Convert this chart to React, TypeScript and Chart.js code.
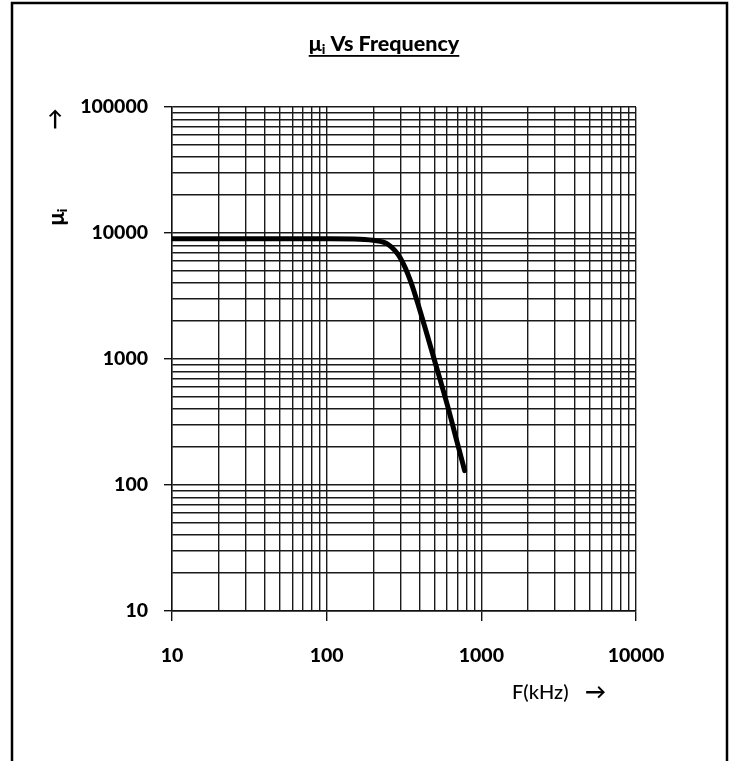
import React, { useEffect, useRef } from "react";
import { Chart, registerables } from "chart.js";

Chart.register(...registerables);

const frequencyKHz = [10, 50, 100, 150, 200, 250, 300, 350, 400, 500, 600, 700, 780];
const permeability = [9000, 9000, 9000, 8980, 8750, 8100, 6300, 4100, 2450, 960, 440, 215, 130];

const xMajorTicks = [10, 100, 1000, 10000];
const yMajorTicks = [10, 100, 1000, 10000, 100000];
const minorMultipliers = [1, 2, 3, 4, 5, 6, 7, 8, 9];

const titleMain = "μ";
const titleSub = "i";
const titleRest = " Vs Frequency";
const xAxisTitle = "F(kHz)";
const arrowRight = "→";
const arrowUp = "↑";

function withMinors(majors: number[]): number[] {
  const out: number[] = [];
  for (let i = 0; i < majors.length - 1; i++) {
    for (const m of minorMultipliers) out.push(majors[i] * m);
  }
  out.push(majors[majors.length - 1]);
  return out;
}

const isMajor = (v: number) => Math.abs(Math.log10(v) - Math.round(Math.log10(v))) < 1e-9;

const FONT = "Lato, 'Open Sans', sans-serif";

const decorPlugin = {
  id: "decor",
  beforeDraw(chart: any) {
    const ctx = chart.ctx;
    ctx.save();
    ctx.fillStyle = "#fff";
    ctx.fillRect(0, 0, chart.width, chart.height);
    ctx.restore();
  },
  afterDraw(chart: any) {
    const ctx = chart.ctx;
    ctx.save();
    // frame
    ctx.strokeStyle = "#000";
    ctx.lineWidth = 2.5;
    ctx.strokeRect(12, 3, 715, 820);

    // title
    ctx.fillStyle = "#000";
    ctx.textBaseline = "alphabetic";
    const big = `900 21.5px ${FONT}`;
    const small = `900 14px ${FONT}`;
    ctx.font = big;
    const w1 = ctx.measureText(titleMain).width;
    const w3 = ctx.measureText(titleRest).width;
    ctx.font = small;
    const w2 = ctx.measureText(titleSub).width;
    const total = w1 + w2 + w3;
    const cx = 384;
    const base = 51;
    let x = cx - total / 2;
    ctx.textAlign = "left";
    ctx.font = big;
    ctx.fillText(titleMain, x, base);
    x += w1;
    ctx.font = small;
    ctx.fillText(titleSub, x, base + 3);
    x += w2;
    ctx.font = big;
    ctx.fillText(titleRest, x, base);
    ctx.fillRect(cx - total / 2, base + 4, total, 1.8);

    // y-axis title (rotated)
    ctx.save();
    ctx.translate(57, 217);
    ctx.rotate(-Math.PI / 2);
    ctx.font = `900 22px ${FONT}`;
    const a1 = ctx.measureText(titleMain).width;
    ctx.font = `900 14px ${FONT}`;
    const a2 = ctx.measureText(titleSub).width;
    let ax = -(a1 + a2) / 2;
    ctx.textBaseline = "middle";
    ctx.font = `900 22px ${FONT}`;
    ctx.fillText(titleMain, ax, 0);
    ax += a1;
    ctx.font = `900 14px ${FONT}`;
    ctx.fillText(titleSub, ax, 5);
    ctx.restore();

    // up arrow
    ctx.font = `bold 21px ${FONT}`;
    ctx.textAlign = "center";
    ctx.textBaseline = "middle";
    ctx.fillText(arrowUp, 55, 119);

    // x-axis title
    ctx.textAlign = "left";
    ctx.font = `500 20px ${FONT}`;
    ctx.fillText(xAxisTitle, 512, 693);
    ctx.font = `bold 21px ${FONT}`;
    ctx.fillText(arrowRight, 585, 692);
    ctx.restore();
  },
};

export default function App() {
  const ref = useRef<HTMLCanvasElement | null>(null);

  useEffect(() => {
    if (!ref.current) return;
    const xTicks = withMinors(xMajorTicks);
    const yTicks = withMinors(yMajorTicks);
    const chart = new Chart(ref.current, {
      type: "line",
      data: {
        datasets: [
          {
            data: frequencyKHz.map((f, i) => ({ x: f, y: permeability[i] })),
            borderColor: "#000",
            borderWidth: 5,
            pointRadius: 0,
            cubicInterpolationMode: "monotone",
            borderCapStyle: "round",
            borderJoinStyle: "round",
            fill: false,
          },
        ],
      },
      options: {
        animation: false,
        responsive: true,
        maintainAspectRatio: false,
        devicePixelRatio: 1,
        layout: { padding: { top: 107, right: 97, bottom: 0, left: 0 } },
        plugins: { legend: { display: false }, tooltip: { enabled: false }, title: { display: false } },
        scales: {
          x: {
            type: "logarithmic",
            min: 10,
            max: 10000,
            afterBuildTicks: (s: any) => {
              s.ticks = xTicks.map((v) => ({ value: v, major: isMajor(v) }));
            },
            afterFit: (s: any) => {
              s.height = 150;
            },
            border: { display: true, color: "#111", width: 1.4 },
            grid: {
              color: "#1a1a1a",
              lineWidth: 1.4,
              tickLength: 10,
              tickColor: (c: any) => (c.tick && isMajor(c.tick.value) ? "#111" : "rgba(0,0,0,0)"),
            },
            ticks: {
              autoSkip: false,
              maxRotation: 0,
              padding: 23,
              color: "#000",
              font: { family: FONT, size: 19.5, weight: "900" },
              callback: (v: any) => (isMajor(Number(v)) ? String(Number(v)) : ""),
            },
          },
          y: {
            type: "logarithmic",
            min: 10,
            max: 100000,
            afterBuildTicks: (s: any) => {
              s.ticks = yTicks.map((v) => ({ value: v, major: isMajor(v) }));
            },
            afterFit: (s: any) => {
              s.width = 172;
            },
            border: { display: true, color: "#111", width: 1.4 },
            grid: {
              color: "#1a1a1a",
              lineWidth: 1.4,
              tickLength: 8,
              tickColor: (c: any) => (c.tick && isMajor(c.tick.value) ? "#111" : "rgba(0,0,0,0)"),
            },
            ticks: {
              autoSkip: false,
              padding: 16,
              color: "#000",
              font: { family: FONT, size: 19.5, weight: "900" },
              callback: (v: any) => (isMajor(Number(v)) ? String(Number(v)) : ""),
            },
          },
        },
      },
      plugins: [decorPlugin],
    } as any);
    return () => chart.destroy();
  }, []);

  return (
    <div style={{ position: "absolute", left: 0, top: 0, width: 733, height: 761, background: "#fff" }}>
      <canvas ref={ref} />
    </div>
  );
}
